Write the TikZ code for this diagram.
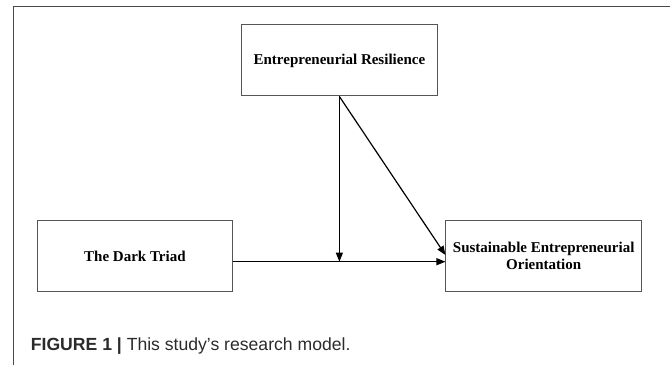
\documentclass[tikz,border=0pt]{standalone}
\usepackage{fontspec}
\setmainfont{Liberation Serif}
\newfontfamily\capfont{Liberation Sans}
\usetikzlibrary{arrows.meta,calc}
\definecolor{framegray}{HTML}{4A4A4A}
\definecolor{boxgray}{HTML}{555555}
\definecolor{captext}{HTML}{2B2B2B}
\tikzset{
  x=1pt, y=1pt,
  varbox/.style={draw=boxgray, line width=1pt, minimum width=195.5pt, minimum height=71pt,
    inner sep=0pt, align=center, font=\fontsize{15}{17.3}\selectfont\bfseries},
  arr/.style={draw=black, line width=1.2pt, -{Triangle[length=9pt,width=7pt]}},
}
\begin{document}
\begin{tikzpicture}
  \useasboundingbox (0,0) rectangle (670,365);
  % outer frame, open to the right and bottom
  \draw[framegray, line width=1.1pt] (13.3,0) -- (13.3,358.7) -- (670,358.7);

  % variables
  \node[varbox] (er)  at (339.4,304.5) {Entrepreneurial Resilience};
  \node[varbox] (dt)  at (134.9,108.8) {The Dark Triad};
  \node[varbox] (seo) at (543.7,108.8) {Sustainable Entrepreneurial\\Orientation};

  % connector points
  \coordinate (dtout) at ($(dt.east)+(0,-5.5)$);
  \coordinate (seoin) at (seo.west |- dtout);
  \coordinate (mod)   at (er.south |- dtout);
  \coordinate (seodiag) at ($(seo.west)+(0,1.2)$);

  % paths
  \draw[arr] (dtout) -- (seoin);
  \draw[arr] (er.south) -- (mod);
  \draw[arr] (er.south) -- (seodiag);

  % caption
  \node[anchor=base west, inner sep=0pt, text=captext, font=\capfont\fontsize{17.6}{20}\selectfont] (caption)
    at (30.7,15) {\textbf{FIGURE 1} \textbf{|} This study’s research model.};
\end{tikzpicture}
\end{document}
